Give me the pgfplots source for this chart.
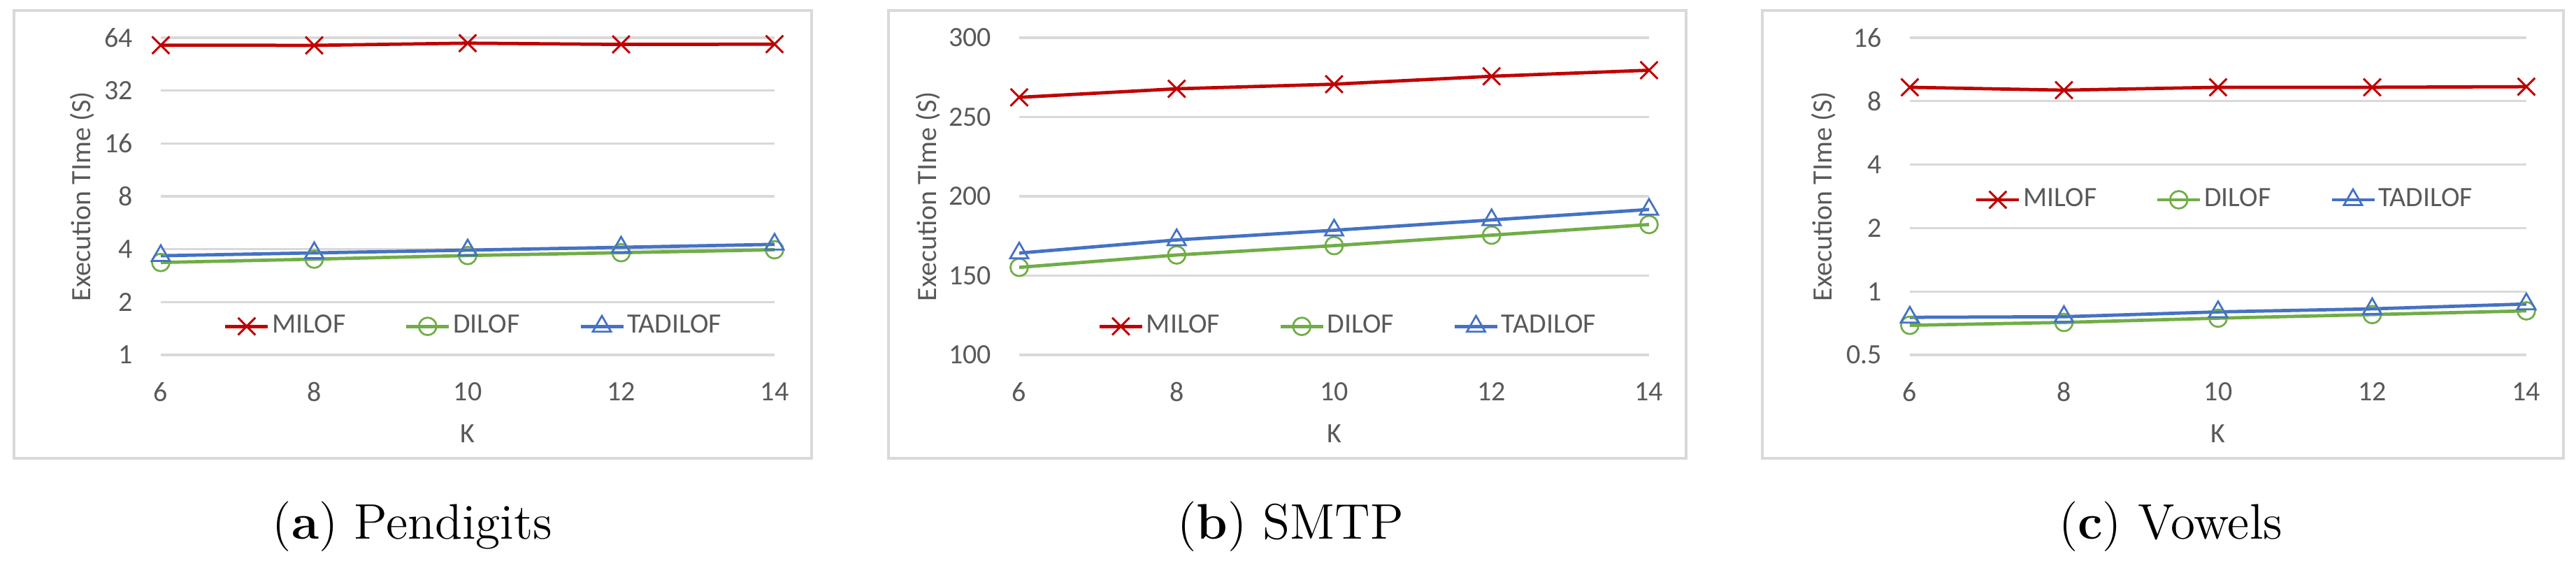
\documentclass[border=0pt]{standalone}
\usepackage{fontspec}
\usepackage{pgfplots}
\pgfplotsset{compat=1.18}
\newfontfamily\carlito{Carlito}

\definecolor{milof}{HTML}{C00000}
\definecolor{dilof}{HTML}{70AD47}
\definecolor{tadilof}{HTML}{4472C4}
\definecolor{gridgray}{HTML}{D9D9D9}
\definecolor{txtgray}{HTML}{595959}

% one px of the reference = 0.2pt
\pgfplotsset{
  exec/.style={
    scale only axis, anchor=south west, height=90.8pt,
    xmin=6, xmax=14, xtick={6,8,10,12,14}, xticklabels={6,8,10,12,14},
    axis line style={draw=none}, major tick length=0pt,
    ymajorgrids, grid style={gridgray, line width=0.67pt},
    clip=false,
    tick label style={font=\carlito\fontsize{8}{9.6}\selectfont, text=txtgray},
    xticklabel style={anchor=center, yshift=-10.6pt},
    yticklabel style={anchor=east, inner sep=0pt, xshift=-7.8pt},
    xlabel={K},
    every axis x label/.style={at={([yshift=-22.6pt]axis description cs:0.5,0)}, anchor=center,
      font=\carlito\fontsize{8}{9.6}\selectfont, text=txtgray},
    ylabel={Execution TIme (S)},
    legend columns=3,
    legend image code/.code={
      \draw[mark repeat=2,mark phase=2,##1] plot coordinates {(0pt,0pt) (6.1pt,0pt) (12.2pt,0pt)};},
    legend style={draw=none, fill=none, font=\carlito\fontsize{8}{9.6}\selectfont, text=txtgray,
      nodes={inner sep=0.7pt}, /tikz/every even column/.append style={column sep=16.2pt}},
  },
  ylab/.style={every axis y label/.style={at={([xshift=-#1]axis description cs:0,0.5)},
      rotate=90, anchor=center, font=\carlito\fontsize{8}{9.6}\selectfont, text=txtgray}},
  leg/.style 2 args={legend style={at={([xshift=#1]axis description cs:0.5,#2)}, anchor=center}},
  smil/.style={milof, line width=0.95pt, mark=x, mark size=3.5pt, mark options={solid, line width=0.6pt}},
  sdil/.style={dilof, line width=0.95pt, mark=o, mark size=2.5pt, mark options={solid, line width=0.55pt}},
  stad/.style={tadilof, line width=0.95pt, mark=triangle, mark size=3pt, mark options={solid, line width=0.55pt}},
}

\begin{document}
\begin{tikzpicture}
\useasboundingbox (0,0) rectangle (737pt,160.6pt);

% chart frames
\draw[gridgray, line width=0.8pt] (4pt,157.6pt) rectangle (232.2pt,29.4pt);
\draw[gridgray, line width=0.8pt] (254.2pt,157.6pt) rectangle (482.4pt,29.4pt);
\draw[gridgray, line width=0.8pt] (504.2pt,157.6pt) rectangle (733.4pt,29.4pt);

% (a) Pendigits
\begin{axis}[exec, at={(46pt,59pt)}, width=175.6pt,
  ymode=log, log basis y=2, ymin=1, ymax=64,
  ytick={1,2,4,8,16,32,64}, yticklabels={1,2,4,8,16,32,64},
  ylab=22.4pt, leg={1.8pt}{0.09}]
\addplot[smil] coordinates {(6,58.0) (8,57.9) (10,59.6) (12,58.6) (14,58.8)};
\addplot[sdil] coordinates {(6,3.36) (8,3.51) (10,3.68) (12,3.82) (14,3.97)};
\addplot[stad] coordinates {(6,3.67) (8,3.81) (10,3.95) (12,4.10) (14,4.26)};
\legend{MILOF,DILOF,TADILOF}
\end{axis}

% (b) SMTP
\begin{axis}[exec, at={(291.6pt,59pt)}, width=180.2pt,
  ymin=100, ymax=300,
  ytick={100,150,200,250,300}, yticklabels={100,150,200,250,300},
  ylab=26pt, leg={4pt}{0.09}]
\addplot[smil] coordinates {(6,262.4) (8,267.8) (10,270.7) (12,275.7) (14,279.5)};
\addplot[sdil] coordinates {(6,155.2) (8,163.0) (10,168.9) (12,175.5) (14,182.2)};
\addplot[stad] coordinates {(6,164.2) (8,172.5) (10,178.6) (12,185.1) (14,191.7)};
\legend{MILOF,DILOF,TADILOF}
\end{axis}

% (c) Vowels
\begin{axis}[exec, at={(546.4pt,59pt)}, width=176.4pt,
  ymode=log, log basis y=2, ymin=0.5, ymax=16,
  ytick={0.5,1,2,4,8,16}, yticklabels={0.5,1,2,4,8,16},
  ylab=24.6pt, leg={2pt}{0.489}]
\addplot[smil] coordinates {(6,9.31) (8,9.02) (10,9.31) (12,9.31) (14,9.37)};
\addplot[sdil] coordinates {(6,0.691) (8,0.713) (10,0.747) (12,0.777) (14,0.809)};
\addplot[stad] coordinates {(6,0.754) (8,0.759) (10,0.800) (12,0.827) (14,0.872)};
\legend{MILOF,DILOF,TADILOF}
\end{axis}

% captions
\node[anchor=base, font=\fontsize{14.3}{17}\selectfont] at (118pt,6.2pt) {(\textbf{a}) Pendigits};
\node[anchor=base, font=\fontsize{14.3}{17}\selectfont] at (369.2pt,6.2pt) {(\textbf{b}) SMTP};
\node[anchor=base, font=\fontsize{14.3}{17}\selectfont] at (621pt,6.2pt) {(\textbf{c}) Vowels};
\end{tikzpicture}
\end{document}
